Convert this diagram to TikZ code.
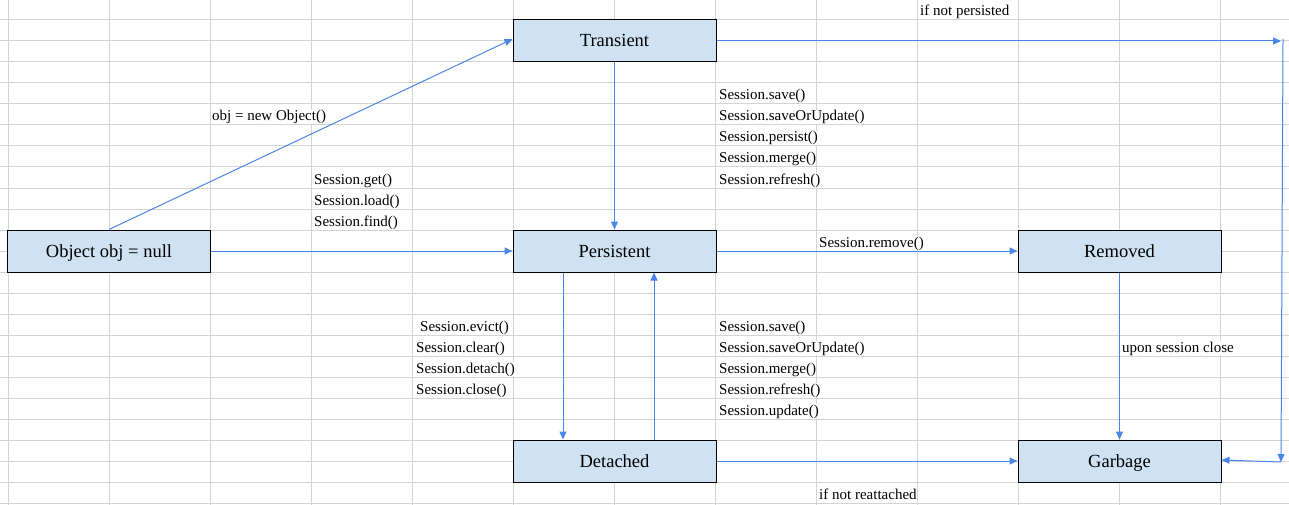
\documentclass[tikz,border=0pt]{standalone}
\usepackage{fontspec}
\setmainfont{Liberation Serif}
\usetikzlibrary{arrows.meta}
\definecolor{gridc}{RGB}{212,212,212}
\definecolor{arr}{RGB}{74,134,232}
\definecolor{boxf}{RGB}{207,226,243}
\begin{document}
\begin{tikzpicture}[x=1pt,y=-1pt,
 state/.style={draw=black,line width=1pt,fill=boxf,minimum width=203pt,minimum height=42pt,inner sep=0pt,text height=12pt,text depth=0pt,font=\fontsize{18.5}{22}\selectfont},
 lbl/.style={anchor=base west,inner sep=0pt,text height=11pt,text depth=3pt,fill=white,font=\fontsize{15}{18}\selectfont},
 conn/.style={draw=arr,line width=1pt,-{Triangle[length=8pt,width=7pt]}}]
\useasboundingbox (0,0) rectangle (1289,505);
\fill[white] (0,0) rectangle (1289,505);
% grid
\foreach \i in {0,...,12} \draw[gridc,line width=1pt] (8+101*\i,0) -- (8+101*\i,505);
\foreach \j in {0,...,23} \draw[gridc,line width=1pt] (0,20+21*\j) -- (1289,20+21*\j);
% states
\node[state] (trans) at (614.5,41) {Transient};
\node[state] (obj) at (109,251) {Object obj = null};
\node[state] (pers) at (614.5,251) {Persistent};
\node[state] (rem) at (1119.5,251) {Removed};
\node[state] (det) at (614.5,461) {Detached};
\node[state] (garb) at (1119.5,461) {Garbage};
% labels
\node[lbl] (l1) at (920,16) {if not persisted};
\node[lbl] (l2) at (212,121) {obj = new Object()};
\node[lbl] (g1) at (314,184) {Session.get()};
\node[lbl] (g2) at (314,205) {Session.load()};
\node[lbl] (g3) at (314,226) {Session.find()};
\node[lbl] (s1) at (719,100) {Session.save()};
\node[lbl] (s2) at (719,121) {Session.saveOrUpdate()};
\node[lbl] (s3) at (719,142) {Session.persist()};
\node[lbl] (s4) at (719,163) {Session.merge()};
\node[lbl] (s5) at (719,184) {Session.refresh()};
\node[lbl] (r1) at (819,247) {Session.remove()};
\node[lbl] (e1) at (420,331) {Session.evict()};
\node[lbl] (e2) at (416,352) {Session.clear()};
\node[lbl] (e3) at (416,373) {Session.detach()};
\node[lbl] (e4) at (416,394) {Session.close()};
\node[lbl] (a1) at (719,331) {Session.save()};
\node[lbl] (a2) at (719,352) {Session.saveOrUpdate()};
\node[lbl] (a3) at (719,373) {Session.merge()};
\node[lbl] (a4) at (719,394) {Session.refresh()};
\node[lbl] (a5) at (719,415) {Session.update()};
\node[lbl] (u1) at (1122,352) {upon session close};
\node[lbl] (n1) at (819,499) {if not reattached};
% connectors
\coordinate (c1) at (1281,41);
\coordinate (c2) at (1281,462);
\draw[conn] (obj.north) -- ([yshift=2pt]trans.west);
\draw[conn] (obj.east) -- (pers.west);
\draw[conn] (trans.south) -- (pers.north);
\draw[conn] (trans.east) -- (c1);
\draw[conn] ([xshift=2pt,yshift=2pt]c1) -- (c2);
\draw[conn] (c2) -- ([yshift=1pt]garb.east);
\draw[conn] (pers.east) -- (rem.west);
\draw[conn] ([xshift=-51.5pt]pers.south) -- ([xshift=-51.5pt]det.north);
\draw[conn] ([xshift=39.5pt]det.north) -- ([xshift=39.5pt]pers.south);
\draw[conn] (rem.south) -- (garb.north);
\draw[conn] (det.east) -- (garb.west);
\end{tikzpicture}
\end{document}
